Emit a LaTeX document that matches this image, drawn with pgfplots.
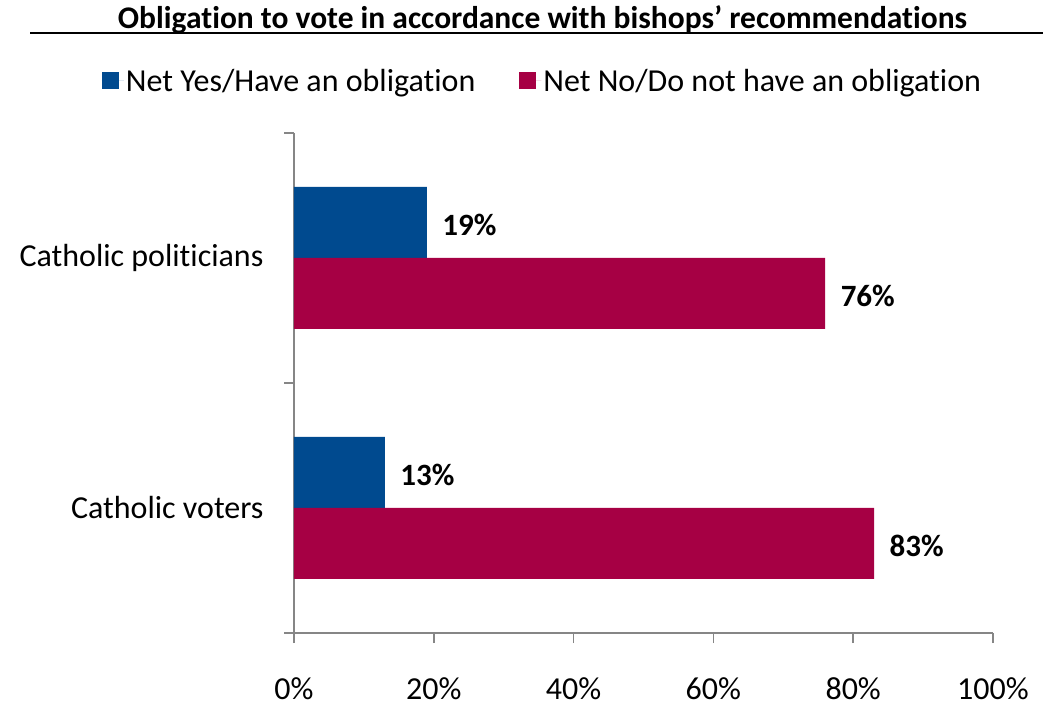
\documentclass[border=0pt]{standalone}
\usepackage{pgfplots}
\pgfplotsset{compat=1.18}
\usepackage{fontspec}
\setmainfont{Carlito}[RawFeature=-liga]
\definecolor{cblue}{RGB}{0,74,143}
\definecolor{cred}{RGB}{166,0,68}
\definecolor{axgray}{RGB}{134,134,134}
\begin{document}
\begin{tikzpicture}
\path (0,0) rectangle (1050pt,723pt);
\node[font=\bfseries\fontsize{31.5}{36}\selectfont] at (542.5pt,703pt) {Obligation to vote in accordance with bishops’ recommendations};
\draw[line width=1.5pt] (30pt,690pt) -- (1043pt,690pt);
\begin{axis}[
  at={(294pt,90pt)}, anchor=south west,
  scale only axis, width=699pt, height=500pt,
  xbar, bar width=71pt,
  xmin=0, xmax=100, ymin=0, ymax=2,
  axis lines=left,
  axis line style={-, draw=axgray, line width=1.5pt},
  tick style={draw=axgray, line width=1.5pt},
  tick align=outside, major tick length=10pt,
  xtick={0,20,40,60,80,100},
  xticklabel={\pgfmathprintnumber{\tick}\%},
  /pgf/number format/assume math mode=true,
  xticklabel style={font=\fontsize{32}{38}\selectfont, yshift=-31pt},
  ytick={0,1,2}, yticklabels={},
  extra y ticks={0.5,1.5},
  extra y tick labels={Catholic voters,Catholic politicians},
  extra y tick style={major tick length=0pt, yticklabel style={font=\fontsize{32}{38}\selectfont, xshift=-27pt}},
  nodes near coords={\pgfmathprintnumber{\pgfplotspointmeta}\%},
  every node near coord/.append style={font=\bfseries\fontsize{31}{36}\selectfont, xshift=12pt, yshift=-2pt, /pgf/number format/assume math mode=true},
  legend columns=2,
  legend style={at={(rel axis cs:0.3555,1.104)}, anchor=center, draw=none, fill=none,
    font=\fontsize{32}{38}\selectfont, /tikz/every even column/.append style={column sep=42pt}},
  legend image code/.code={\fill[#1] (0pt,-8.5pt) rectangle (17pt,8.5pt); \path (0pt,0pt) -- (22pt,0pt);},
]
\addplot[fill=cblue, draw=none, bar shift=35.5pt] coordinates {(13,0.5) (19,1.5)};
\addplot[fill=cred, draw=none, bar shift=-35.5pt] coordinates {(83,0.5) (76,1.5)};
\legend{Net Yes/Have an obligation, Net No/Do not have an obligation}
\end{axis}
\end{tikzpicture}
\end{document}
